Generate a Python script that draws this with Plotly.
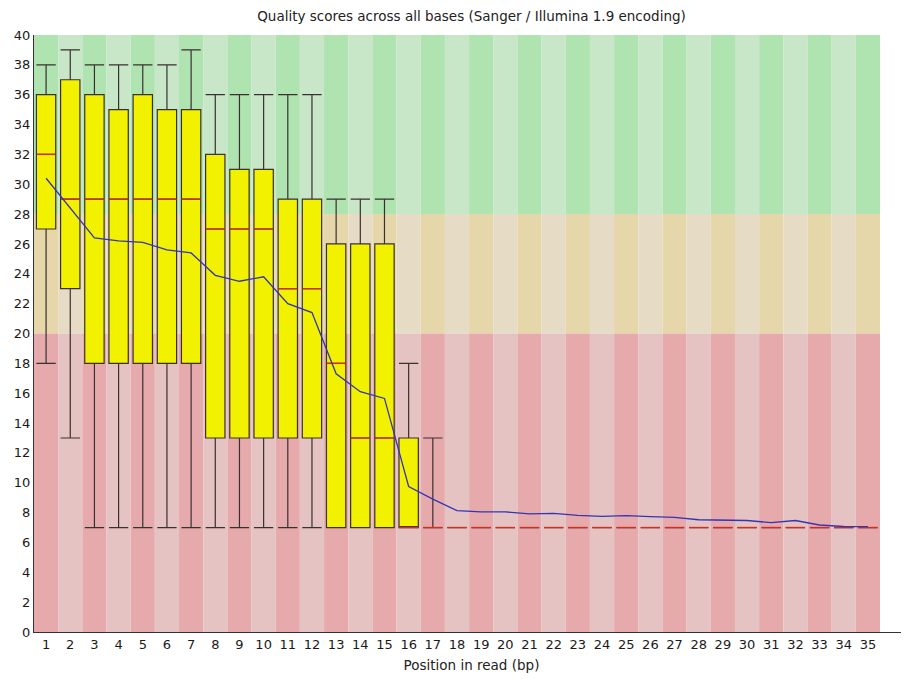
import plotly.graph_objects as go

positions = list(range(1, 36))
lower_whisker = [18, 13, 7, 7, 7, 7, 7, 7, 7, 7, 7, 7, 7, 7, 7, 7, 7] + [7] * 18
q1_values = [27, 23, 18, 18, 18, 18, 18, 13, 13, 13, 13, 13, 7, 7, 7, 7, 7] + [7] * 18
median_values = [32, 29, 29, 29, 29, 29, 29, 27, 27, 27, 23, 23, 18, 13, 13, 7, 7] + [7] * 18
q3_values = [36, 37, 36, 35, 36, 35, 35, 32, 31, 31, 29, 29, 26, 26, 26, 13, 7] + [7] * 18
upper_whisker = [38, 39, 38, 38, 38, 38, 39, 36, 36, 36, 36, 36, 29, 29, 29, 18, 13] + [7] * 18
mean_values = [30.4, 28.4, 26.4, 26.2, 26.1, 25.6, 25.4, 23.9, 23.5, 23.8, 22.0, 21.4,
               17.3, 16.1, 15.65, 9.75, 8.9, 8.13, 8.05, 8.05, 7.92, 7.95, 7.82, 7.75,
               7.8, 7.73, 7.68, 7.52, 7.47, 7.47, 7.33, 7.47, 7.17, 7.07, 7.06]
y_ticks = list(range(0, 41, 2))

# quality bands: (low, high, odd-column colour, even-column colour)
bands = [
    (28, 40, "#afe3af", "#c8e6c8"),
    (20, 28, "#e6d7ab", "#e6dcc6"),
    (0, 20, "#e6aaad", "#e6c3c3"),
]

fig = go.Figure()

shapes = []
for p in positions:
    for lo, hi, c_odd, c_even in bands:
        shapes.append(dict(type="rect", xref="x", yref="y", x0=p - 0.5, x1=p + 0.5,
                           y0=lo, y1=hi, fillcolor=c_odd if p % 2 == 1 else c_even,
                           line=dict(width=0), layer="below"))

fig.add_trace(go.Box(
    x=positions, q1=q1_values, median=median_values, q3=q3_values,
    lowerfence=lower_whisker, upperfence=upper_whisker,
    fillcolor="#f2f200", line=dict(color="#3a3030", width=1.2),
    width=0.8, whiskerwidth=1, showlegend=False, hoverinfo="skip",
))

fig.add_trace(go.Scatter(
    x=positions, y=median_values, mode="markers",
    marker=dict(symbol="line-ew", size=13.8, line=dict(color="#d03020", width=1.4)),
    showlegend=False, hoverinfo="skip",
))

fig.add_trace(go.Scatter(
    x=positions, y=mean_values, mode="lines",
    line=dict(color="#3434b4", width=1.3), showlegend=False,
))

font_family = "DejaVu Sans, sans-serif"
fig.update_layout(
    width=901, height=671,
    margin=dict(l=26, r=0, t=27, b=47),
    paper_bgcolor="white", plot_bgcolor="white",
    shapes=shapes,
    title=dict(text="Quality scores across all bases (Sanger / Illumina 1.9 encoding)",
               x=0.5, xref="paper", y=1 - 8 / 671, yref="container", yanchor="middle",
               font=dict(family=font_family, size=13.5, color="#222")),
    xaxis=dict(range=[0.5, 36.7], tickmode="array", tickvals=positions,
               ticktext=[str(p) for p in positions], showgrid=False, zeroline=False,
               showline=True, linecolor="#333", linewidth=1, ticks="",
               tickfont=dict(family=font_family, size=13, color="#1a1a1a"),
               title=dict(text="Position in read (bp)", standoff=9,
                          font=dict(family=font_family, size=13.5, color="#222"))),
    yaxis=dict(range=[0, 40], tickmode="array", tickvals=y_ticks, showgrid=False,
               zeroline=False, showline=True, linecolor="#333", linewidth=1, ticks="",
               tickfont=dict(family=font_family, size=13, color="#1a1a1a")),
)

fig.write_html("out.html")
